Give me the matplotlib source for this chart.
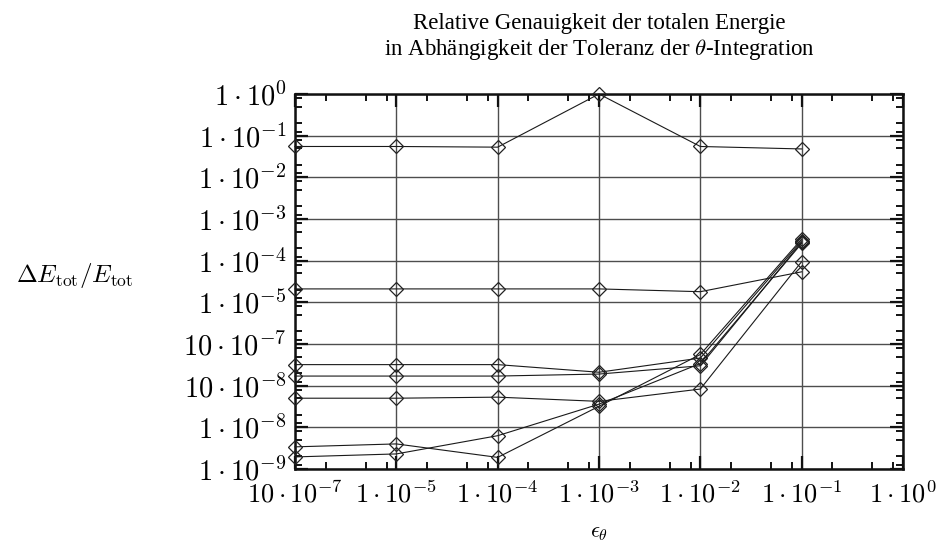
import numpy as np
import matplotlib
matplotlib.use("Agg")
import matplotlib.pyplot as plt
from matplotlib.ticker import FixedLocator, FixedFormatter, NullFormatter

plt.rcParams["mathtext.fontset"] = "cm"

# Integration tolerance epsilon_theta
eps_theta = [1e-6, 1e-5, 1e-4, 1e-3, 1e-2, 1e-1]

# Relative error of the total energy, one list per test case
err_1 = [5.5e-2, 5.5e-2, 5.3e-2, 1.0e0, 5.5e-2, 4.8e-2]
err_2 = [2.1e-5, 2.1e-5, 2.1e-5, 2.1e-5, 1.8e-5, 5.4e-5]
err_3 = [3.2e-7, 3.2e-7, 3.2e-7, 2.1e-7, 4.6e-7, 3.0e-4]
err_4 = [1.7e-7, 1.7e-7, 1.7e-7, 1.9e-7, 3.0e-7, 2.8e-4]
err_5 = [5.0e-8, 5.0e-8, 5.3e-8, 4.2e-8, 8.3e-8, 9.5e-5]
err_6 = [3.4e-9, 4.0e-9, 1.9e-9, 3.2e-8, 5.6e-7, 3.3e-4]
err_7 = [1.95e-9, 2.3e-9, 6.3e-9, 3.6e-8, 3.4e-7, 2.6e-4]
all_errors = [err_1, err_2, err_3, err_4, err_5, err_6, err_7]

# Tick positions and their labels
x_ticks = [1e-6, 1e-5, 1e-4, 1e-3, 1e-2, 1e-1, 1e0]
x_tick_labels = [r"$10\cdot10^{-7}$", r"$1\cdot10^{-5}$", r"$1\cdot10^{-4}$",
                 r"$1\cdot10^{-3}$", r"$1\cdot10^{-2}$", r"$1\cdot10^{-1}$",
                 r"$1\cdot10^{0}$"]
y_ticks = [1e-9, 1e-8, 1e-7, 1e-6, 1e-5, 1e-4, 1e-3, 1e-2, 1e-1, 1e0]
y_tick_labels = [r"$1\cdot10^{-9}$", r"$1\cdot10^{-8}$", r"$10\cdot10^{-8}$",
                 r"$10\cdot10^{-7}$", r"$1\cdot10^{-5}$", r"$1\cdot10^{-4}$",
                 r"$1\cdot10^{-3}$", r"$1\cdot10^{-2}$", r"$1\cdot10^{-1}$",
                 r"$1\cdot10^{0}$"]

fig = plt.figure(figsize=(9.41, 5.51), dpi=100)
ax = fig.add_axes([295 / 941, 1 - 469 / 551, (903 - 295) / 941, (469 - 94) / 551])

ax.set_xscale("log")
ax.set_yscale("log")
ax.set_xlim(1e-6, 1e0)
ax.set_ylim(1e-9, 1e0)

for err in all_errors:
    ax.plot(eps_theta, err, color="#1a1a1a", lw=0.8, marker="D", ms=7.6,
            mfc="none", mec="#222222", mew=0.9, clip_on=False, zorder=3)

ax.grid(True, which="major", color="#4d4d4d", lw=1.0)
ax.set_axisbelow(True)

ax.xaxis.set_major_locator(FixedLocator(x_ticks))
ax.xaxis.set_major_formatter(FixedFormatter(x_tick_labels))
ax.yaxis.set_major_locator(FixedLocator(y_ticks))
ax.yaxis.set_major_formatter(FixedFormatter(y_tick_labels))

x_minor = [m * 10.0 ** k for k in range(-6, 0) for m in (2, 5, 8)]
y_minor = [m * 10.0 ** k for k in range(-9, 0) for m in (1.25, 2, 5, 8)]
ax.xaxis.set_minor_locator(FixedLocator(x_minor))
ax.yaxis.set_minor_locator(FixedLocator(y_minor))
ax.xaxis.set_minor_formatter(NullFormatter())
ax.yaxis.set_minor_formatter(NullFormatter())

ax.tick_params(which="both", direction="in", top=True, right=True, color="#111111")
ax.tick_params(which="major", length=9.5, width=1.6)
ax.tick_params(axis="x", which="major", pad=9, labelsize=19)
ax.tick_params(axis="y", which="major", pad=6, labelsize=20.5)
ax.tick_params(which="minor", length=5, width=1.4)

for sp in ax.spines.values():
    sp.set_linewidth(1.8)
    sp.set_color("#111111")

fig.text(599 / 941, 1 - 23 / 551, "Relative Genauigkeit der totalen Energie",
         ha="center", va="center", family="Liberation Serif", fontsize=16.5)
fig.text(599 / 941, 1 - 49 / 551,
         r"in Abhängigkeit der Toleranz der $\theta$-Integration",
         ha="center", va="center", family="Liberation Serif", fontsize=16.5)

fig.text(75 / 941, 1 - 276 / 551, r"$\Delta E_{\rm tot}/E_{\rm tot}$",
         ha="center", va="center", fontsize=18)
fig.text(599 / 941, 1 - 533 / 551, r"$\epsilon_\theta$",
         ha="center", va="center", fontsize=16)

fig.savefig("out.png", dpi=100)
